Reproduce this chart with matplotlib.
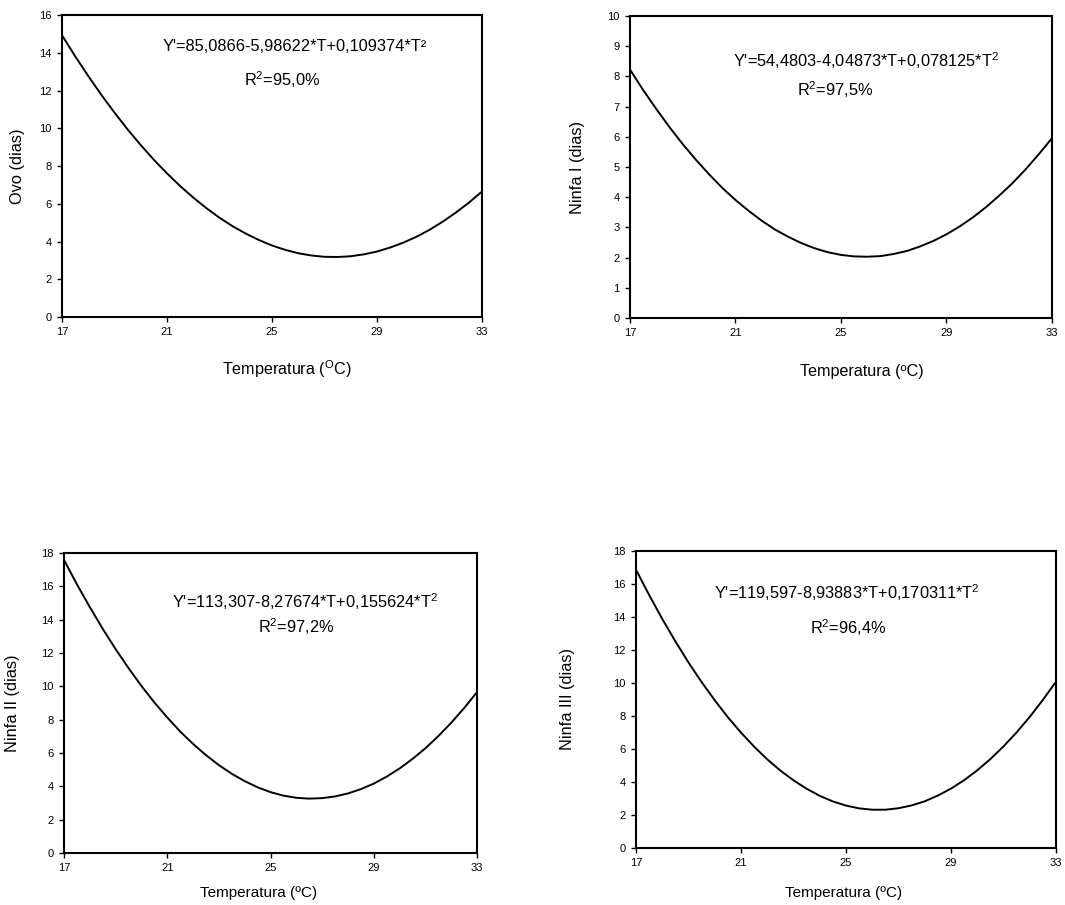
import matplotlib
matplotlib.use('Agg')
import matplotlib.pyplot as plt

plt.rcParams['font.family'] = ['Liberation Sans', 'DejaVu Sans']
plt.rcParams['mathtext.fontset'] = 'custom'
plt.rcParams['mathtext.rm'] = 'Liberation Sans'
plt.rcParams['mathtext.it'] = 'Liberation Sans'

# ─── Dados (dias de desenvolvimento x temperatura) ─────────────────────────────
temperatura = [17, 17.5, 18, 18.5, 19, 19.5, 20, 20.5, 21, 21.5, 22, 22.5,
               23, 23.5, 24, 24.5, 25, 25.5, 26, 26.5, 27, 27.5, 28, 28.5,
               29, 29.5, 30, 30.5, 31, 31.5, 32, 32.5, 33]

ovo = [14.93, 13.82, 12.77, 11.77, 10.83, 9.94, 9.11, 8.33, 7.61, 6.94, 6.33,
       5.77, 5.26, 4.81, 4.42, 4.08, 3.79, 3.56, 3.38, 3.26, 3.19, 3.18, 3.22,
       3.32, 3.47, 3.68, 3.94, 4.25, 4.62, 5.05, 5.53, 6.06, 6.65]
ninfa1 = [8.23, 7.55, 6.92, 6.32, 5.76, 5.24, 4.76, 4.31, 3.91, 3.55, 3.22,
          2.93, 2.69, 2.48, 2.31, 2.18, 2.09, 2.04, 2.03, 2.05, 2.12, 2.22,
          2.37, 2.55, 2.77, 3.03, 3.33, 3.67, 4.05, 4.46, 4.92, 5.42, 5.95]
ninfa2 = [17.58, 16.12, 14.75, 13.45, 12.23, 11.09, 10.02, 9.03, 8.13, 7.29,
          6.54, 5.87, 5.27, 4.75, 4.31, 3.94, 3.65, 3.44, 3.31, 3.26, 3.29,
          3.39, 3.57, 3.83, 4.16, 4.58, 5.07, 5.64, 6.28, 7.01, 7.81, 8.69, 9.65]
ninfa3 = [16.86, 15.33, 13.88, 12.52, 11.24, 10.05, 8.95, 7.92, 6.99, 6.14,
          5.37, 4.69, 4.10, 3.59, 3.16, 2.82, 2.57, 2.40, 2.32, 2.32, 2.41,
          2.58, 2.83, 3.18, 3.60, 4.11, 4.71, 5.39, 6.16, 7.01, 7.95, 8.98, 10.08]

x_ticks = [17, 21, 25, 29, 33]

ylabels = ['Ovo (dias)', 'Ninfa I (dias)', 'Ninfa II (dias)', 'Ninfa III (dias)']
xlabels = ['Temperatura ($^{\\mathrm{O}}$C)', 'Temperatura (ºC)',
           'Temperatura (ºC)', 'Temperatura (ºC)']
equacoes = ["Y'=85,0866-5,98622*T+0,109374*T²",
            "Y'=54,4803-4,04873*T+0,078125*T$^{2}$",
            "Y'=113,307-8,27674*T+0,155624*T$^{2}$",
            "Y'=119,597-8,93883*T+0,170311*T$^{2}$"]
r2 = ['R$^{2}$=95,0%', 'R$^{2}$=97,5%', 'R$^{2}$=97,2%', 'R$^{2}$=96,4%']
y_max = [16, 10, 18, 18]
y_step = [2, 1, 2, 2]

# ─── Layout (posições em fração da figura) ─────────────────────────────────────
rects = [[0.0582, 0.6497, 0.3944, 0.3337],
         [0.5915, 0.6486, 0.3962, 0.3337],
         [0.0601, 0.0575, 0.3878, 0.3315],
         [0.5972, 0.0630, 0.3944, 0.3282]]
eq_pos = [(0.555, 0.897), (0.559, 0.851), (0.584, 0.837), (0.502, 0.859)]
r2_pos = [(0.524, 0.785), (0.486, 0.755), (0.562, 0.753), (0.505, 0.741)]
ylab_x = [-0.088, -0.107, -0.107, -0.145]
xlab_pos = [(0.536, -0.136), (0.55, -0.153), (0.47, -0.11), (0.493, -0.128)]
xlab_size = [11.6, 11.6, 11, 11]

series = [ovo, ninfa1, ninfa2, ninfa3]

fig = plt.figure(figsize=(10.65, 9.05), dpi=100)

for i in range(4):
    ax = fig.add_axes(rects[i])
    ax.plot(temperatura, series[i], color='black', linewidth=1.4)
    ax.set_xlim(17, 33)
    ax.set_ylim(0, y_max[i])
    ax.set_xticks(x_ticks)
    ax.set_yticks(range(0, y_max[i] + 1, y_step[i]))
    ax.tick_params(direction='out', length=3.5, width=1, labelsize=8, pad=4)
    for s in ax.spines.values():
        s.set_linewidth(1.5)
    ax.set_ylabel(ylabels[i], fontsize=11.8)
    ax.yaxis.set_label_coords(ylab_x[i], 0.5)
    ax.set_xlabel(xlabels[i], fontsize=xlab_size[i])
    ax.xaxis.set_label_coords(*xlab_pos[i])
    ax.text(*eq_pos[i], equacoes[i], transform=ax.transAxes, fontsize=11.8,
            ha='center', va='center')
    ax.text(*r2_pos[i], r2[i], transform=ax.transAxes, fontsize=11.8,
            ha='center', va='center')

fig.savefig('out.png', dpi=100)
